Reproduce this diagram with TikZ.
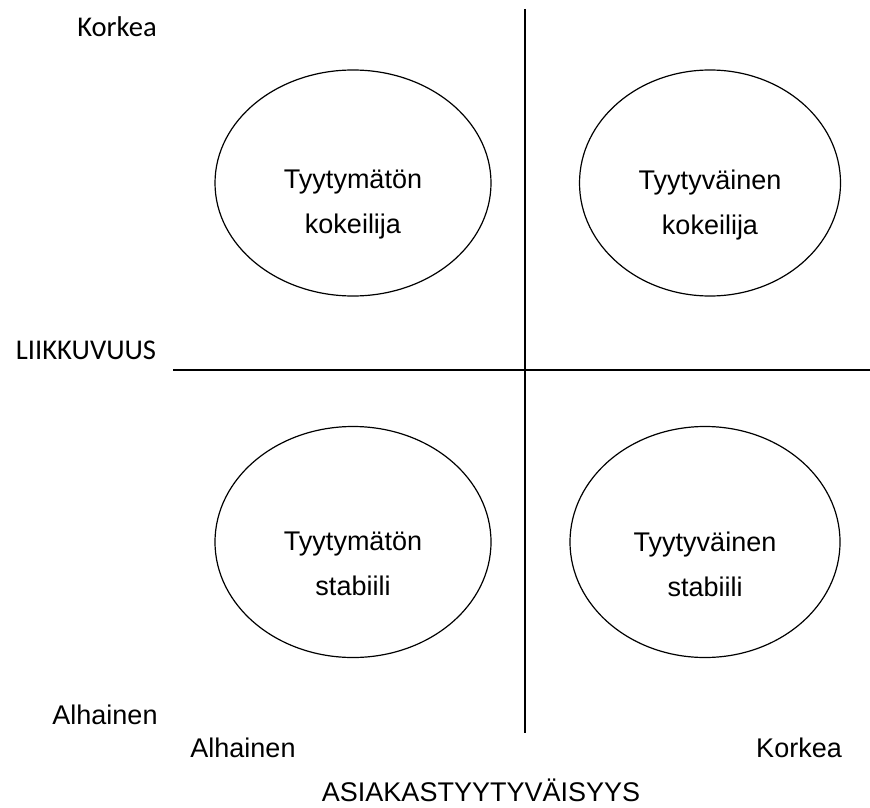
\documentclass[tikz,border=0pt]{standalone}
\usepackage{fontspec}
\setmainfont{Liberation Sans}
\newfontfamily\calibri{Carlito}
\usetikzlibrary{shapes.geometric,positioning}

\begin{document}
\begin{tikzpicture}[x=0.5pt, y=-0.5pt,
    axis/.style={draw, line width=1pt},
    quad/.style={draw, ellipse, line width=0.6pt, inner sep=0pt},
    quadtext/.style={align=center, inner sep=0pt,
                     font=\fontsize{13.5}{22.5}\selectfont},
    lvl/.style={inner sep=0pt, font=\fontsize{13.5}{16}\selectfont},
    axlabel/.style={inner sep=0pt, font=\calibri\fontsize{14.3}{17}\selectfont}]
  \useasboundingbox (0,0) rectangle (870,807);
  %% axes
  \coordinate (vtop) at (525,9);
  \coordinate (vbot) at (525,733);
  \coordinate (hleft) at (173,370);
  \coordinate (hright) at (870,370);
  \draw[axis] (vtop) -- (vbot);
  \draw[axis] (hleft) -- (hright);
  %% quadrants
  \foreach \name/\cx/\cy/\w/\h/\txt in {
      tl/353/183/276/226/{Tyytymätön\\kokeilija},
      tr/710/183/261/226/{Tyytyväinen\\kokeilija},
      bl/353/542/276/231/{Tyytymätön\\stabiili},
      br/705/542/270/231/{Tyytyväinen\\stabiili}}
  {
    \node[quad, minimum width=\w*0.5pt, minimum height=\h*0.5pt] (\name) at (\cx,\cy) {};
    \node[quadtext] (\name-txt) at ([yshift=-11pt]\name.center) {\txt};
  }
  %% labels
  \node[axlabel] (ytop) at (117,27) {Korkea};
  \node[axlabel] (ytitle) at (86,350) {LIIKKUVUUS};
  \node[lvl] (ybot) at (105,715) {Alhainen};
  \node[lvl] (xlow) at (243,748) {Alhainen};
  \node[lvl] (xhigh) at (799,748) {Korkea};
  \node[lvl] (xtitle) at (481,790) {ASIAKASTYYTYVÄISYYS};
\end{tikzpicture}
\end{document}
